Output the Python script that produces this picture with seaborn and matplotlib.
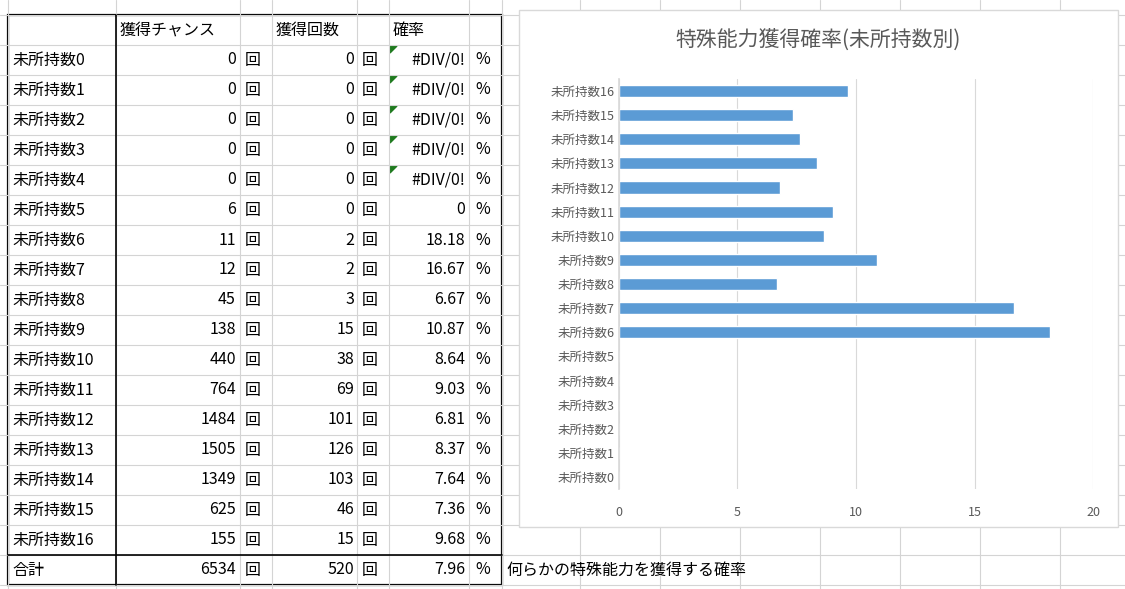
import matplotlib
matplotlib.use("Agg")
import matplotlib.pyplot as plt
import seaborn as sns
import pandas as pd
from matplotlib.lines import Line2D
from matplotlib.patches import Rectangle, Polygon

labels = [f"未所持数{i}" for i in range(17)]
chances = [0, 0, 0, 0, 0, 6, 11, 12, 45, 138, 440, 764, 1484, 1505, 1349, 625, 155]
gains = [0, 0, 0, 0, 0, 0, 2, 2, 3, 15, 38, 69, 101, 126, 103, 46, 15]
rates = [None, None, None, None, None, 0, 18.18, 16.67, 6.67, 10.87, 8.64, 9.03, 6.81, 8.37, 7.64, 7.36, 9.68]
total_chance, total_gain, total_rate = 6534, 520, 7.96

sns.set_theme(style="white")
plt.rcParams['font.family'] = ['Noto Sans CJK JP', 'DejaVu Sans']

W, H = 1125, 589
fig = plt.figure(figsize=(W / 100, H / 100), dpi=100)
fig.patch.set_facecolor("white")


def fx(x):
    return x / W


def fy(y):
    return 1 - y / H


def hline(x0, x1, y, c, lw=1):
    fig.add_artist(Line2D([fx(x0), fx(x1)], [fy(y), fy(y)], color=c, lw=lw, transform=fig.transFigure))


def vline(x, y0, y1, c, lw=1):
    fig.add_artist(Line2D([fx(x), fx(x)], [fy(y0), fy(y1)], color=c, lw=lw, transform=fig.transFigure))


def txt(x, y, s, ha="left", size=11.5, color="black"):
    fig.text(fx(x), fy(y), s, ha=ha, va="center", fontsize=size, color=color)


grid = "#d4d4d4"
row_top = 15
row_h = 30
cols = [8, 116, 240, 272, 357, 389, 469, 502]
# background sheet gridlines
for i in range(20):
    hline(0, W, row_top + i * row_h, grid, 0.8)
for x in cols + [580, 660, 740, 820, 900, 980, 1060]:
    vline(x, 0, H, grid, 0.8)

# header
yc = row_top + row_h / 2
txt(120, yc, "獲得チャンス")
txt(276, yc, "獲得回数")
txt(393, yc, "確率")

for i, lab in enumerate(labels):
    yc = row_top + (i + 1) * row_h + row_h / 2
    txt(12, yc, lab)
    txt(236, yc, str(chances[i]), ha="right")
    txt(245, yc, "回")
    txt(354, yc, str(gains[i]), ha="right")
    txt(362, yc, "回")
    r = rates[i]
    if r is None:
        txt(465, yc, "#DIV/0!", ha="right")
        y0 = yc - row_h / 2 + 1
        fig.add_artist(Polygon([[fx(390), fy(y0)], [fx(397), fy(y0)], [fx(390), fy(y0 + 7)]],
                               closed=True, color="#1e7a1e", transform=fig.transFigure))
    else:
        txt(465, yc, f"{r:g}", ha="right")
    txt(475, yc, "%")

yc = row_top + 18 * row_h + row_h / 2
txt(12, yc, "合計")
txt(236, yc, str(total_chance), ha="right")
txt(245, yc, "回")
txt(354, yc, str(total_gain), ha="right")
txt(362, yc, "回")
txt(465, yc, f"{total_rate:g}", ha="right")
txt(475, yc, "%")
txt(506, yc, "何らかの特殊能力を獲得する確率")

# table borders
bottom = row_top + 19 * row_h
fig.add_artist(Rectangle((fx(8), fy(bottom)), fx(494), (19 * row_h) / H, fill=False,
                         ec="black", lw=1.6, transform=fig.transFigure))
vline(116, row_top, bottom, "black", 1.2)
hline(8, 502, row_top + 18 * row_h, "black", 1.2)

# chart box
fig.add_artist(Rectangle((fx(519), fy(527)), fx(599), 517 / H, fc="white",
                         ec="#d9d9d9", lw=1, transform=fig.transFigure, zorder=2))
fig.text(fx(818), fy(40), "特殊能力獲得確率(未所持数別)", ha="center", va="center",
         fontsize=15, color="#595959", zorder=3)

ax = fig.add_axes([fx(619), fy(489), fx(1093 - 619), (489 - 79) / H], zorder=3)
ax.patch.set_alpha(0)
df = pd.DataFrame({"label": labels, "rate": [r if r is not None else 0 for r in rates]})
sns.barplot(data=df, x="rate", y="label", order=labels[::-1], color="#5B9BD5",
            saturation=1, width=0.5, ax=ax)
ax.set_xlim(0, 20)
ax.set_xticks([0, 5, 10, 15, 20])
ax.set_xlabel("")
ax.set_ylabel("")
ax.grid(axis="x", color="#d9d9d9", lw=0.8)
ax.set_axisbelow(True)
for s in ["top", "right", "bottom"]:
    ax.spines[s].set_visible(False)
ax.spines["left"].set_color("#d9d9d9")
ax.tick_params(axis="both", labelsize=9, colors="#595959", length=0)
ax.tick_params(axis="x", pad=12)

fig.savefig("out.png", dpi=100)
